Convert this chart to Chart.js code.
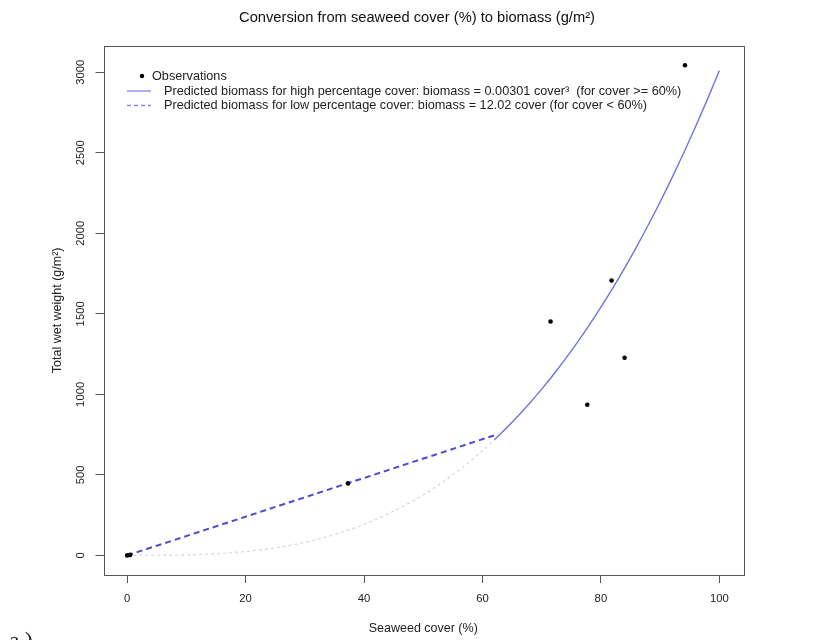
<!DOCTYPE html>
<html>
<head>
<meta charset="utf-8">
<script src="https://cdn.jsdelivr.net/npm/chart.js@4/dist/chart.umd.min.js"></script>
<style>
  html, body { margin: 0; padding: 0; background: #ffffff; }
  canvas { display: block; }
</style>
</head>
<body>
<canvas id="c" width="814" height="640"></canvas>
<script>
// Field observations: seaweed cover (%) against total wet weight (g/m2)
const obsCover  = [0, 0.5, 37.3, 71.5, 77.7, 81.8, 84.0, 94.2];
const obsWeight = [0, 3, 447, 1452, 935, 1707, 1227, 3043];

// Fitted conversion models, as given in the legend
const highCoef = 0.00301;   // biomass = 0.00301 * cover^3  (cover >= 60%)
const lowCoef  = 12.02;     // biomass = 12.02 * cover      (cover < 60%)

// Cover values at which the model curves are evaluated
const highCoverGrid  = [62, 64, 66, 68, 70, 72, 74, 76, 78, 80, 82, 84, 86, 88, 90, 92, 94, 96, 98, 100];
const lowCoverGrid   = [0, 62];
const cubicLowGrid   = [0, 4, 8, 12, 16, 20, 24, 28, 32, 36, 40, 44, 48, 52, 56, 60, 62];

// Axes
const xTicks = [0, 20, 40, 60, 80, 100];
const yTicks = [0, 500, 1000, 1500, 2000, 2500, 3000];
const xRange = [-4, 104];
const yRange = [-121.72, 3164.72];

const titleText = 'Conversion from seaweed cover (%) to biomass (g/m\u00B2)';
const xTitle = 'Seaweed cover (%)';
const yTitle = 'Total wet weight (g/m\u00B2)';
const legendLabels = [
  'Observations',
  'Predicted biomass for high percentage cover: biomass = 0.00301 cover\u00B3  (for cover >= 60%)',
  'Predicted biomass for low percentage cover: biomass = 12.02 cover (for cover < 60%)'
];
const panelTag = 'a)';

const FONT = "'Liberation Sans', Arial, Helvetica, sans-serif";
Chart.defaults.font.family = FONT;

const cubic = c => highCoef * c * c * c;
const linear = c => lowCoef * c;

const colObs = '#000000';
const colHigh = '#7272e0';
const colLow = '#4c4cd4';
const colGhost = '#dcdcdc';

const obsData = obsCover.map((c, i) => ({ x: c, y: obsWeight[i] }));
const highData = highCoverGrid.map(c => ({ x: c, y: cubic(c) }));
const lowData = lowCoverGrid.map(c => ({ x: c, y: linear(c) }));
const ghostData = cubicLowGrid.map(c => ({ x: c, y: cubic(c) }));

// Frame, title, legend and panel tag in the style of a base-graphics plot
const decorations = {
  id: 'decorations',
  afterDraw(chart) {
    const ctx = chart.ctx;
    const a = chart.chartArea;
    ctx.save();
    // plot frame
    ctx.strokeStyle = '#555555';
    ctx.lineWidth = 1;
    ctx.strokeRect(Math.round(a.left) + 0.5, Math.round(a.top) + 0.5,
                   Math.round(a.right - a.left), Math.round(a.bottom - a.top));

    // main title
    ctx.fillStyle = '#111111';
    ctx.font = '14.7px ' + FONT;
    ctx.textAlign = 'center';
    ctx.textBaseline = 'middle';
    ctx.fillText(titleText, 417, 18);

    // legend
    ctx.font = '12.7px ' + FONT;
    ctx.textAlign = 'left';
    const rows = [76, 91, 105.5];
    // observations
    ctx.beginPath();
    ctx.arc(142, rows[0], 2.2, 0, Math.PI * 2);
    ctx.fillStyle = colObs;
    ctx.fill();
    ctx.fillStyle = '#222222';
    ctx.fillText(legendLabels[0], 152, rows[0]);
    // high-cover curve
    ctx.strokeStyle = '#8484e6';
    ctx.lineWidth = 1.3;
    ctx.setLineDash([]);
    ctx.beginPath();
    ctx.moveTo(127, rows[1]); ctx.lineTo(151, rows[1]);
    ctx.stroke();
    ctx.fillText(legendLabels[1], 164, rows[1]);
    // low-cover line
    ctx.strokeStyle = '#8484e6';
    ctx.setLineDash([4, 3]);
    ctx.beginPath();
    ctx.moveTo(127, rows[2]); ctx.lineTo(151, rows[2]);
    ctx.stroke();
    ctx.setLineDash([]);
    ctx.fillText(legendLabels[2], 164, rows[2]);

    // panel tag
    ctx.font = "24px 'Liberation Serif', 'DejaVu Serif', serif";
    ctx.fillStyle = '#222222';
    ctx.textBaseline = 'alphabetic';
    ctx.letterSpacing = '5px';
    ctx.fillText(panelTag, 9, 648);
    ctx.restore();
  }
};

new Chart(document.getElementById('c'), {
  type: 'scatter',
  data: {
    datasets: [
      {
        label: legendLabels[0],
        data: obsData,
        showLine: false,
        pointRadius: 2.3,
        pointBackgroundColor: colObs,
        pointBorderWidth: 0,
        pointBorderColor: colObs
      },
      {
        label: legendLabels[1],
        data: highData,
        showLine: true,
        borderColor: colHigh,
        borderWidth: 1.4,
        pointRadius: 0,
        cubicInterpolationMode: 'monotone'
      },
      {
        label: legendLabels[2],
        data: lowData,
        showLine: true,
        borderColor: colLow,
        borderWidth: 2,
        borderDash: [6, 4],
        pointRadius: 0
      },
      {
        label: 'cubic below break',
        data: ghostData,
        showLine: true,
        borderColor: colGhost,
        borderWidth: 1.4,
        borderDash: [3, 3],
        pointRadius: 0,
        cubicInterpolationMode: 'monotone'
      }
    ]
  },
  options: {
    responsive: false,
    animation: false,
    events: [],
    layout: { padding: { top: 45.7, right: 71, bottom: 0, left: 0 } },
    plugins: {
      legend: { display: false },
      title: { display: false },
      tooltip: { enabled: false }
    },
    scales: {
      x: {
        type: 'linear',
        position: 'bottom',
        min: xRange[0],
        max: xRange[1],
        afterBuildTicks: s => { s.ticks = xTicks.map(v => ({ value: v })); },
        afterFit: s => { s.height = 65; },
        border: { display: false },
        grid: { drawOnChartArea: false, drawTicks: true, tickLength: 8, tickColor: '#555555', tickWidth: 1 },
        ticks: { color: '#222222', font: { size: 11.3 }, padding: 9, maxRotation: 0, minRotation: 0,
                 callback: v => String(v) },
        title: { display: true, text: xTitle, color: '#222222', font: { size: 12.5 }, padding: { top: 0, bottom: 3.5 } }
      },
      y: {
        type: 'linear',
        position: 'left',
        min: yRange[0],
        max: yRange[1],
        afterBuildTicks: s => { s.ticks = yTicks.map(v => ({ value: v })); },
        afterFit: s => { s.width = 103.5; },
        border: { display: false },
        grid: { drawOnChartArea: false, drawTicks: true, tickLength: 8, tickColor: '#555555', tickWidth: 1 },
        ticks: { color: '#222222', font: { size: 11.3 }, padding: 2, minRotation: 90, maxRotation: 90,
                 crossAlign: 'center', callback: v => String(v) },
        title: { display: true, text: yTitle, color: '#222222', font: { size: 12.5 }, padding: { top: 50.5, bottom: 0 } }
      }
    }
  },
  plugins: [decorations]
});
</script>
</body>
</html>
